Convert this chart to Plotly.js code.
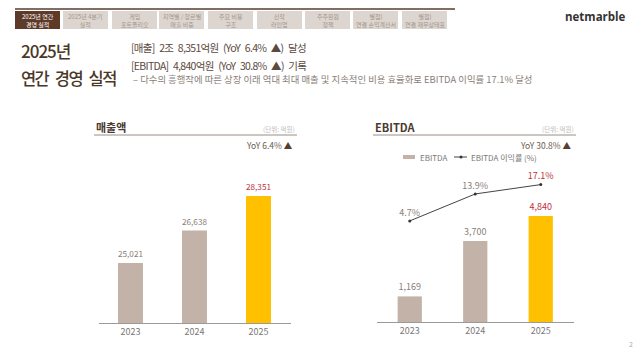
<!DOCTYPE html>
<html><head><meta charset="utf-8">
<script src="https://cdn.plot.ly/plotly-3.0.1.min.js"></script>
<style>html,body{margin:0;padding:0;background:#fff;}#chart{width:640px;height:358px;}</style>
</head><body><div id="chart"></div>
<script>
// ---- data ----
var years = ['2023', '2024', '2025'];
var revenue = [25021, 26638, 28351];          // 매출액 (억원)
var ebitda = [1169, 3700, 4840];              // EBITDA (억원)
var ebitdaMargin = [4.7, 13.9, 17.1];         // EBITDA 이익률 (%)
var legendLabels = ['EBITDA', 'EBITDA 이익률 (%)'];
var tabLabels = [
  ['2025년 연간', '경영 실적'], ['2025년 4분기', '실적'], ['게임', '포트폴리오'],
  ['지역별 / 장르별', '매출 비중'], ['주요 비용', '구조'], ['신작', '라인업'],
  ['주주환원', '정책'], ['별첨)', '연결 손익계산서'], ['별첨)', '연결 재무상태표']
];

var W = 640, H = 358;
function px(x){return x/W;}
function py(y){return 1 - y/H;}
var KR = '"Noto Sans CJK KR", "Noto Sans", sans-serif';
var barGray = '#c3b2a7', gold = '#ffc000', red = '#c0303a', lblGray = '#8a7e77';

var traces = [
  {type:'bar', x: years, y: revenue, xaxis:'x', yaxis:'y', width:0.39,
   marker:{color:[barGray, barGray, gold]}, showlegend:false,
   texttemplate:'%{y:,}', textposition:'outside', cliponaxis:false,
   textfont:{family:KR, size:9, color:[lblGray, lblGray, red]}, hoverinfo:'skip'},
  {type:'bar', name:legendLabels[0], x: years, y: ebitda, xaxis:'x2', yaxis:'y2', width:0.37,
   marker:{color:[barGray, barGray, gold]}, showlegend:false,
   texttemplate:'%{y:,}', textposition:'outside', cliponaxis:false,
   textfont:{family:KR, size:9, color:[lblGray, lblGray, red]}, hoverinfo:'skip'},
  {type:'scatter', name:legendLabels[1], x: years, y: ebitdaMargin, xaxis:'x2', yaxis:'y3',
   mode:'lines+markers+text', line:{color:'#444', width:1}, marker:{color:'#333', size:3}, showlegend:false,
   texttemplate:'%{y:.1f}%', textposition:'top center', cliponaxis:false,
   textfont:{family:KR, size:9, color:[lblGray, lblGray, red]}, hoverinfo:'skip'}
];

var shapes = [], ann = [];
// top nav
shapes.push({type:'line', xref:'paper', yref:'paper', x0:px(15), x1:px(455), y0:py(9), y1:py(9), line:{color:'#5a3d2e', width:1.5}});
var tabX = [15, 63, 112, 159, 208, 257, 305, 353, 402];
tabX.forEach(function(x, i){
  shapes.push({type:'rect', xref:'paper', yref:'paper', x0:px(x), x1:px(x+45), y0:py(29), y1:py(11),
    fillcolor: i===0 ? '#5e3a28' : '#ddd5cf', line:{width:0}});
  ann.push({xref:'paper', yref:'paper', x:px(x+22.5), y:py(20), xanchor:'center', yanchor:'middle', showarrow:false,
    text: tabLabels[i][0] + '<br>' + tabLabels[i][1], align:'center',
    font:{family:KR, size:6, color: i===0 ? '#ffffff' : '#a3968c'}});
});
ann.push({xref:'paper', yref:'paper', x:px(563), y:py(17), xanchor:'left', yanchor:'middle', showarrow:false,
  text:'netmarble', font:{family:'"Open Sans", sans-serif', size:11.5, color:'#333', weight:700}});

// header
var tight = function(t, ls){ return '<span style="letter-spacing:' + ls + 'px">' + t.replace(/ /g, '\u2002') + '</span>'; };
ann.push({xref:'paper', yref:'paper', x:px(19), y:py(51), xanchor:'left', yanchor:'middle', showarrow:false,
  text:tight('2025년', -1), font:{family:KR, size:17, color:'#4a3728', weight:500}});
ann.push({xref:'paper', yref:'paper', x:px(19), y:py(78), xanchor:'left', yanchor:'middle', showarrow:false,
  text:tight('연간 경영 실적', -1.6), font:{family:KR, size:16.5, color:'#4a3728', weight:500}});
ann.push({xref:'paper', yref:'paper', x:px(129), y:py(48), xanchor:'left', yanchor:'middle', showarrow:false,
  text:tight('[매출] 2조 8,351억원 (YoY 6.4% ▲) 달성', -0.7), font:{family:KR, size:10.5, color:'#5a4a40'}});
ann.push({xref:'paper', yref:'paper', x:px(129), y:py(65), xanchor:'left', yanchor:'middle', showarrow:false,
  text:tight('[EBITDA] 4,840억원 (YoY 30.8% ▲) 기록', -0.7), font:{family:KR, size:10.5, color:'#5a4a40'}});
ann.push({xref:'paper', yref:'paper', x:px(131), y:py(79), xanchor:'left', yanchor:'middle', showarrow:false,
  text:'– 다수의 흥행작에 따른 상장 이래 역대 최대 매출 및 지속적인 비용 효율화로 EBITDA 이익률 17.1% 달성',
  font:{family:KR, size:9.4, color:'#8a7e77'}});

// chart headers
function chartHead(x0, x1, title, yoy){
  ann.push({xref:'paper', yref:'paper', x:px(x0), y:py(127), xanchor:'left', yanchor:'middle', showarrow:false,
    text:title, font:{family:KR, size:11, color:'#4a3a30', weight:700}});
  ann.push({xref:'paper', yref:'paper', x:px(x1), y:py(129), xanchor:'right', yanchor:'middle', showarrow:false,
    text:'(단위: 억원)', font:{family:KR, size:6.5, color:'#bbb'}});
  shapes.push({type:'line', xref:'paper', yref:'paper', x0:px(x0), x1:px(x1), y0:py(135), y1:py(135), line:{color:'#9a8d85', width:1}});
  ann.push({xref:'paper', yref:'paper', x:px(x1-2), y:py(145), xanchor:'right', yanchor:'middle', showarrow:false,
    text:yoy + ' <span style="color:#5a3d2e">▲</span>', font:{family:KR, size:8.5, color:'#6a5a50'}});
}
chartHead(94, 297, '매출액', 'YoY 6.4%');
chartHead(373, 576, 'EBITDA', 'YoY 30.8%');

// manual legend
shapes.push({type:'rect', xref:'paper', yref:'paper', x0:px(403), x1:px(415), y0:py(159), y1:py(155), fillcolor:barGray, line:{width:0}});
ann.push({xref:'paper', yref:'paper', x:px(418), y:py(157), xanchor:'left', yanchor:'middle', showarrow:false,
  text:legendLabels[0], font:{family:KR, size:8, color:'#777'}});
shapes.push({type:'line', xref:'paper', yref:'paper', x0:px(454), x1:px(467), y0:py(157), y1:py(157), line:{color:'#444', width:1}});
shapes.push({type:'circle', xref:'paper', yref:'paper', x0:px(459.5), x1:px(462.5), y0:py(158.5), y1:py(155.5), fillcolor:'#333', line:{width:0}});
ann.push({xref:'paper', yref:'paper', x:px(469), y:py(157), xanchor:'left', yanchor:'middle', showarrow:false,
  text:legendLabels[1], font:{family:KR, size:8, color:'#777'}});

ann.push({xref:'paper', yref:'paper', x:px(631), y:py(344), xanchor:'center', yanchor:'middle', showarrow:false,
  text:'2', font:{family:KR, size:7, color:'#aaa'}});

var xCommon = {type:'category', range:[-0.5, 2.5], showline:true, linecolor:'#9a9a9a', linewidth:1,
  ticks:'', showgrid:false, zeroline:false, fixedrange:true, tickfont:{family:KR, size:9, color:'#777'}};
var yHidden = {showgrid:false, zeroline:false, showticklabels:false, showline:false, ticks:'', fixedrange:true};

var layout = {
  width:W, height:H, margin:{l:0, r:0, t:0, b:0}, paper_bgcolor:'#fff', plot_bgcolor:'rgba(0,0,0,0)',
  font:{family:KR},
  xaxis: Object.assign({}, xCommon, {domain:[px(98.5), px(290.5)], anchor:'y'}),
  yaxis: Object.assign({}, yHidden, {domain:[py(323), py(150)], range:[22036, 30643], anchor:'x'}),
  xaxis2: Object.assign({}, xCommon, {domain:[px(377), px(573.5)], anchor:'y2'}),
  yaxis2: Object.assign({}, yHidden, {domain:[py(322), py(150)], range:[0, 7854], anchor:'x2'}),
  yaxis3: Object.assign({}, yHidden, {domain:[py(322), py(150)], range:[-29.8, 28.9], overlaying:'y2', anchor:'x2'}),
  showlegend:false,
  shapes:shapes, annotations:ann
};
Plotly.newPlot('chart', traces, layout, {displayModeBar:false, staticPlot:true});
</script></body></html>
